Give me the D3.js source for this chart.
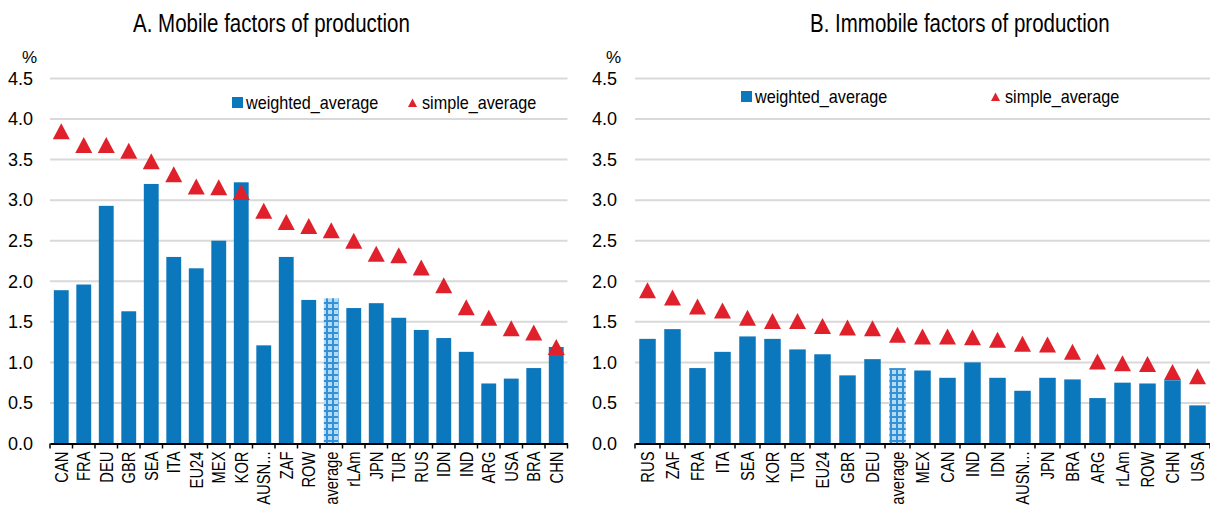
<!DOCTYPE html>
<html>
<head>
<meta charset="utf-8">
<script src="https://cdn.jsdelivr.net/npm/d3@7"></script>
<style>
  body { margin: 0; background: #fff; }
  svg text { font-family: "Liberation Sans", Arial, sans-serif; fill: #000; }
</style>
</head>
<body>
<div id="chart"></div>
<script>
// panel A: mobile factors
var catsA = ['CAN', 'FRA', 'DEU', 'GBR', 'SEA', 'ITA', 'EU24', 'MEX', 'KOR', 'AUSN...', 'ZAF', 'ROW',
             'average', 'rLAm', 'JPN', 'TUR', 'RUS', 'IDN', 'IND', 'ARG', 'USA', 'BRA', 'CHN'];
var weightedA = [1.89, 1.96, 2.93, 1.63, 3.20, 2.30, 2.16, 2.50, 3.22, 1.21, 2.30, 1.77,
                 1.79, 1.67, 1.73, 1.55, 1.40, 1.30, 1.13, 0.74, 0.80, 0.93, 1.19];
var simpleA = [3.85, 3.68, 3.68, 3.61, 3.48, 3.32, 3.17, 3.16, 3.10, 2.87, 2.73, 2.68,
               2.63, 2.50, 2.34, 2.32, 2.17, 1.95, 1.68, 1.55, 1.42, 1.37, 1.19];

// panel B: immobile factors
var catsB = ['RUS', 'ZAF', 'FRA', 'ITA', 'SEA', 'KOR', 'TUR', 'EU24', 'GBR', 'DEU', 'average', 'MEX',
             'CAN', 'IND', 'IDN', 'AUSN...', 'JPN', 'BRA', 'ARG', 'rLAm', 'ROW', 'CHN', 'USA'];
var weightedB = [1.29, 1.41, 0.93, 1.13, 1.32, 1.29, 1.16, 1.10, 0.84, 1.04, 0.93, 0.90,
                 0.81, 1.00, 0.81, 0.65, 0.81, 0.79, 0.56, 0.75, 0.74, 0.78, 0.47];
var simpleB = [1.89, 1.80, 1.69, 1.64, 1.55, 1.51, 1.51, 1.45, 1.43, 1.42, 1.34, 1.32,
               1.32, 1.31, 1.28, 1.23, 1.22, 1.13, 1.01, 0.99, 0.98, 0.88, 0.83];

var yTicks = [0, 0.5, 1, 1.5, 2, 2.5, 3, 3.5, 4, 4.5];

var BAR_COLOR = '#0b77bd';
var TRI_COLOR = '#e0212b';
var GRID_COLOR = '#d9d9d9';
var NARROW = 'scale(0.82,1)';

var svg = d3.select('#chart').append('svg')
    .attr('width', 1210)
    .attr('height', 506);

// checkered fill for the average bar
var pat = svg.append('defs').append('pattern')
    .attr('id', 'avgfill')
    .attr('patternUnits', 'userSpaceOnUse')
    .attr('width', 6).attr('height', 6);
pat.append('rect').attr('width', 6).attr('height', 6).attr('fill', '#b4dbf6');
pat.append('rect').attr('x', 2).attr('y', 0).attr('width', 2).attr('height', 6).attr('fill', '#3591d6');
pat.append('rect').attr('x', 0).attr('y', 2).attr('width', 6).attr('height', 2).attr('fill', '#3591d6');

function drawPanel(opt) {
    var g = svg.append('g');

    var x = d3.scaleBand()
        .domain(opt.cats)
        .range([opt.x0, opt.x1])
        .paddingInner(0.34)
        .paddingOuter(0.17);

    var y = d3.scaleLinear()
        .domain([0, 4.5])
        .range([443.5, 78.5]);

    // title
    g.append('text')
        .attr('transform', 'translate(' + opt.titleX + ',32) ' + NARROW)
        .style('font-size', '25px')
        .text(opt.title);

    // gridlines
    g.selectAll('.grid')
        .data(yTicks.slice(1))
        .enter().append('line')
        .attr('x1', opt.x0).attr('x2', opt.x1)
        .attr('y1', function (d) { return y(d); })
        .attr('y2', function (d) { return y(d); })
        .attr('stroke', GRID_COLOR)
        .attr('stroke-width', 2);

    // y labels
    var yAxis = d3.axisLeft(y).tickValues(yTicks).tickFormat(d3.format('.1f')).tickSize(0).tickPadding(0);
    var ya = g.append('g')
        .attr('transform', 'translate(' + opt.labelX + ',0)')
        .call(yAxis);
    ya.select('.domain').remove();
    ya.selectAll('text')
        .style('font-size', '18px')
        .style('font-family', '"Liberation Sans", Arial, sans-serif')
        .attr('fill', '#000');

    g.append('text')
        .attr('x', opt.labelX - 11)
        .attr('y', 63)
        .style('font-size', '17px')
        .text('%');

    // bars
    g.selectAll('.bar')
        .data(opt.weighted)
        .enter().append('rect')
        .attr('x', function (d, i) { return x(opt.cats[i]); })
        .attr('width', x.bandwidth())
        .attr('y', function (d) { return y(d); })
        .attr('height', function (d) { return y(0) - y(d); })
        .attr('fill', function (d, i) { return opt.cats[i] == 'average' ? 'url(#avgfill)' : BAR_COLOR; });

    // x axis
    var step = x.step();
    var xAxis = d3.axisBottom(x).tickSize(0).tickPadding(0).tickFormat('');
    var xa = g.append('g')
        .attr('transform', 'translate(0,' + y(0) + ')')
        .call(xAxis);
    xa.select('.domain').attr('stroke', '#000').attr('stroke-width', 2);
    xa.selectAll('.tick').remove();

    var bounds = d3.range(opt.cats.length + 1).map(function (i) { return opt.x0 + i * step; });
    g.selectAll('.xtick')
        .data(bounds)
        .enter().append('line')
        .attr('x1', function (d) { return d; })
        .attr('x2', function (d) { return d; })
        .attr('y1', y(0))
        .attr('y2', y(0) + 5)
        .attr('stroke', '#000')
        .attr('stroke-width', 1.5);

    g.selectAll('.xlab')
        .data(opt.cats)
        .enter().append('text')
        .attr('transform', function (d) {
            return 'translate(' + (x(d) + x.bandwidth() / 2 + 6.5) + ',' + (y(0) + 8) + ') rotate(-90) ' + NARROW;
        })
        .attr('text-anchor', 'end')
        .style('font-size', '18px')
        .text(function (d) { return d; });

    // triangles
    var tri = 'M0,-8L8.5,8L-8.5,8Z';
    g.selectAll('.tri')
        .data(opt.simple)
        .enter().append('path')
        .attr('d', tri)
        .attr('transform', function (d, i) {
            return 'translate(' + (x(opt.cats[i]) + x.bandwidth() / 2) + ',' + y(d) + ')';
        })
        .attr('fill', TRI_COLOR);

    // legend
    g.append('rect')
        .attr('x', opt.legX1).attr('y', opt.legY - 11)
        .attr('width', 11).attr('height', 11)
        .attr('fill', BAR_COLOR);
    g.append('text')
        .attr('transform', 'translate(' + (opt.legX1 + 14) + ',' + (opt.legY + 1) + ') ' + 'scale(0.9,1)')
        .style('font-size', '18px')
        .text('weighted_average');
    g.append('path')
        .attr('d', 'M0,-4.5L4.5,4L-4.5,4Z')
        .attr('transform', 'translate(' + (opt.legX2 + 4.5) + ',' + (opt.legY - 5) + ')')
        .attr('fill', TRI_COLOR);
    g.append('text')
        .attr('transform', 'translate(' + (opt.legX2 + 14) + ',' + (opt.legY + 1) + ') ' + 'scale(0.9,1)')
        .style('font-size', '18px')
        .text('simple_average');
}

drawPanel({
    cats: catsA, weighted: weightedA, simple: simpleA,
    x0: 50, x1: 567.5, labelX: 33,
    title: 'A. Mobile factors of production', titleX: 133,
    legX1: 232, legX2: 408, legY: 108
});

drawPanel({
    cats: catsB, weighted: weightedB, simple: simpleB,
    x0: 635, x1: 1210, labelX: 617,
    title: 'B. Immobile factors of production', titleX: 810,
    legX1: 741, legX2: 991, legY: 102
});
</script>
</body>
</html>
